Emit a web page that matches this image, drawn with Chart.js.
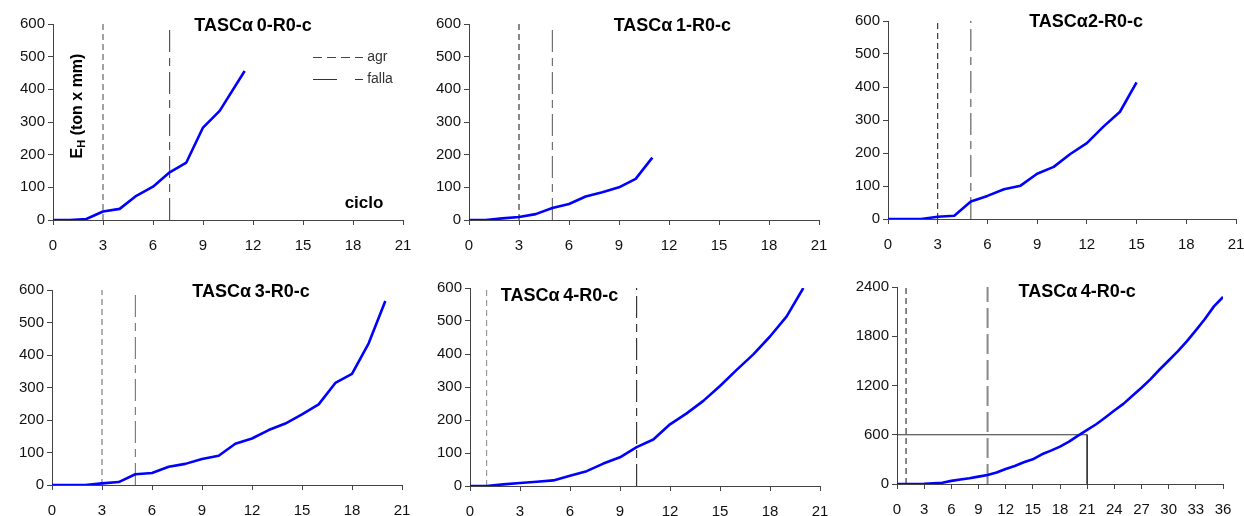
<!DOCTYPE html>
<html lang="es">
<head>
<meta charset="UTF-8" />
<title>Energía histerética por ciclo - TASC</title>
<script src="https://cdn.jsdelivr.net/npm/chart.js"></script>
<style>
  html, body { margin: 0; padding: 0; background: #fff; overflow: hidden; }
  body { width: 1244px; height: 516px; position: relative; }
  .panel { position: absolute; }
</style>
</head>
<body>
<div class="panel" id="p0"><canvas id="c0"></canvas></div>
<div class="panel" id="p1"><canvas id="c1"></canvas></div>
<div class="panel" id="p2"><canvas id="c2"></canvas></div>
<div class="panel" id="p3"><canvas id="c3"></canvas></div>
<div class="panel" id="p4"><canvas id="c4"></canvas></div>
<div class="panel" id="p5"><canvas id="c5"></canvas></div>

<script>
// ciclo -> E_H (ton x mm), one pair of arrays per specimen
const cyclesA0 = [0, 1, 2, 3, 4, 5, 6, 7, 8, 9, 10, 11.5];
const energyA0 = [0, 0, 3, 26, 34, 74, 102, 146, 176, 283, 334, 456];

const cyclesA1 = [0, 1, 2, 3, 4, 5, 6, 7, 8, 9, 10, 11];
const energyA1 = [0, 0, 5, 9, 18, 37, 49, 72, 85, 100, 126, 191];

const cyclesA2 = [0, 1, 2, 3, 4, 5, 6, 7, 8, 9, 10, 11, 12, 13, 14, 15];
const energyA2 = [0, 0, 0, 7, 10, 53, 70, 90, 101, 137, 158, 197, 230, 280, 325, 414];

const cyclesA3 = [0, 1, 2, 3, 4, 5, 6, 7, 8, 9, 10, 11, 12, 13, 14, 15, 16, 17, 18, 19, 20];
const energyA3 = [0, 0, 0, 5, 9, 33, 37, 56, 65, 80, 90, 127, 143, 169, 189, 217, 248, 314, 342, 436, 566];

const cyclesA4 = [0, 1, 2, 3, 4, 5, 6, 7, 8, 9, 10, 11, 12, 13, 14, 15, 16, 17, 18, 19, 20];
const energyA4 = [0, 0, 5, 9, 13, 17, 31, 45, 68, 87, 118, 141, 187, 220, 258, 303, 352, 399, 453, 514, 600];

const cyclesA4full = [0, 1, 2, 3, 4, 5, 6, 7, 8, 9, 10, 11, 12, 13, 14, 15, 16, 17, 18,
  19, 20, 21, 22, 23, 24, 25, 26, 27, 28, 29, 30, 31, 32, 33, 34, 35, 36];
const energyA4full = [0, 0, 0, 2, 8, 16, 38, 55, 70, 90, 110, 140, 183, 220, 264, 301, 362, 407, 456,
  517, 590, 659, 728, 810, 895, 976, 1074, 1172, 1278, 1395, 1505, 1615, 1737, 1871, 2010, 2164, 2278];

const seriesCycles = [cyclesA0, cyclesA1, cyclesA2, cyclesA3, cyclesA4, cyclesA4full];
const seriesEnergy = [energyA0, energyA1, energyA2, energyA3, energyA4, energyA4full];

// cycle of first crack (agr) and of failure (falla)
const agrCycle = [3, 3, 3, 3, 1, 1];
const fallaCycle = [7, 5, 5, 5, 10, 10];

// axes
const cycleMax = [21, 21, 21, 21, 21, 36];
const cycleStep = [3, 3, 3, 3, 3, 3];
const energyMax = [600, 600, 600, 600, 600, 2400];
const energyStep = [100, 100, 100, 100, 100, 600];

const titles = ['TASCα\u20090-R0-c', 'TASCα\u20091-R0-c', 'TASCα2-R0-c',
  'TASCα\u20093-R0-c', 'TASCα\u20094-R0-c', 'TASCα\u20094-R0-c'];

// 600 ton x mm reached at cycle 21 (last panel)
const refCycles = [0, 21, 21];
const refEnergy = [600, 600, 0];

/* layout: plot area in page pixels [left, top, right, bottom] */
const plotBoxes = [
  [53, 24, 403, 220],
  [469, 24, 819, 220],
  [888, 21, 1236, 219],
  [52, 290, 402, 485],
  [470, 288, 820, 486],
  [897, 287, 1223, 484]
];
// title centre, in axis units
const titlePos = [[12, 594], [12.2, 594], [11.95, 597], [11.94, 595], [5.37, 577], [19.9, 2343]];

const agrStyle = [
  { color: '#444', width: 1, dash: [6, 4] },
  { color: '#111', width: 1, dash: [6, 4] },
  { color: '#111', width: 1, dash: [6, 4] },
  { color: '#666', width: 1, dash: [6, 4] },
  { color: '#888', width: 1, dash: [6, 4] },
  { color: '#111', width: 1, dash: [6, 4] }
];
const fallaStyle = [
  { color: '#333', width: 1, dash: [22, 6, 8, 6] },
  { color: '#555', width: 1, dash: [22, 6, 8, 6] },
  { color: '#444', width: 1, dash: [22, 6, 8, 6] },
  { color: '#666', width: 1, dash: [22, 6, 8, 6] },
  { color: '#111', width: 1, dash: [22, 6, 8, 6] },
  { color: '#888', width: 2, dash: [20, 6] }
];

const FONT = '"Liberation Sans", Arial, sans-serif';
const Y_W = 50, X_H = 34, PAD_T = 20, PAD_R = 15;

function toPoints(xs, ys) {
  return xs.map(function (x, k) { return { x: x, y: ys[k] }; });
}

// labels of the first panel: axis title, "ciclo" and the legend
function drawFirstPanelLabels(chart) {
  const ctx = chart.ctx, xs = chart.scales.x, ys = chart.scales.y;

  // E_H (ton x mm), vertical
  ctx.save();
  ctx.translate(xs.getPixelForValue(1.5), ys.getPixelForValue(349));
  ctx.rotate(-Math.PI / 2);
  ctx.fillStyle = '#000';
  ctx.textBaseline = 'middle';
  ctx.textAlign = 'left';
  ctx.font = 'bold 16px ' + FONT;
  const wE = ctx.measureText('E').width;
  const rest = ' (ton x mm)';
  const wRest = ctx.measureText(rest).width;
  ctx.font = 'bold 11px ' + FONT;
  const wH = ctx.measureText('H').width;
  let x0 = -(wE + wH + wRest) / 2;
  ctx.font = 'bold 16px ' + FONT;
  ctx.fillText('E', x0, 0);
  ctx.font = 'bold 11px ' + FONT;
  ctx.fillText('H', x0 + wE, 4);
  ctx.font = 'bold 16px ' + FONT;
  ctx.fillText(rest, x0 + wE + wH, 0);
  ctx.restore();

  ctx.save();
  ctx.fillStyle = '#000';
  ctx.font = 'bold 17px ' + FONT;
  ctx.textAlign = 'center';
  ctx.textBaseline = 'middle';
  ctx.fillText('ciclo', xs.getPixelForValue(18.66), ys.getPixelForValue(52));

  // legend
  const legend = [
    { label: 'agr', y: 500, dash: [9, 5], color: '#444' },
    { label: 'falla', y: 431, dash: [24, 18, 8, 18], color: '#333' }
  ];
  const lx0 = xs.getPixelForValue(15.6), lx1 = xs.getPixelForValue(18.6);
  ctx.font = '14px ' + FONT;
  ctx.textAlign = 'left';
  legend.forEach(function (it) {
    const py = Math.round(ys.getPixelForValue(it.y)) + 0.5;
    ctx.strokeStyle = it.color;
    ctx.lineWidth = 1;
    ctx.setLineDash(it.dash);
    ctx.beginPath();
    ctx.moveTo(lx0, py);
    ctx.lineTo(lx1, py);
    ctx.stroke();
    ctx.setLineDash([]);
    ctx.fillStyle = '#333';
    ctx.fillText(it.label, xs.getPixelForValue(18.85), py);
  });
  ctx.restore();
}

function notesPlugin(i) {
  return {
    id: 'notes' + i,
    afterDraw: function (chart) {
      const ctx = chart.ctx, xs = chart.scales.x, ys = chart.scales.y;
      ctx.save();
      ctx.fillStyle = '#000';
      ctx.font = 'bold 18px ' + FONT;
      ctx.textAlign = 'center';
      ctx.textBaseline = 'middle';
      ctx.fillText(titles[i], xs.getPixelForValue(titlePos[i][0]), ys.getPixelForValue(titlePos[i][1]));
      ctx.restore();
      if (i === 0) drawFirstPanelLabels(chart);
    }
  };
}

// plain numbers, no thousands separator
function plainTick(value) {
  return String(value);
}

function makePanel(i) {
  const box = plotBoxes[i];
  const div = document.getElementById('p' + i);
  div.style.left = (box[0] - Y_W) + 'px';
  div.style.top = (box[1] - PAD_T) + 'px';
  div.style.width = (box[2] - box[0] + Y_W + PAD_R) + 'px';
  div.style.height = (box[3] - box[1] + PAD_T + X_H) + 'px';

  const datasets = [
    {
      label: 'E_H',
      data: toPoints(seriesCycles[i], seriesEnergy[i]),
      borderColor: '#0000ff',
      borderWidth: 2.6,
      pointRadius: 0,
      tension: 0,
      fill: false,
      borderJoinStyle: 'round'
    },
    {
      label: 'agr',
      data: toPoints([agrCycle[i], agrCycle[i]], [0, energyMax[i]]),
      borderColor: agrStyle[i].color,
      borderWidth: agrStyle[i].width,
      borderDash: agrStyle[i].dash,
      pointRadius: 0,
      fill: false
    },
    {
      label: 'falla',
      data: toPoints([fallaCycle[i], fallaCycle[i]], [0, energyMax[i]]),
      borderColor: fallaStyle[i].color,
      borderWidth: fallaStyle[i].width,
      borderDash: fallaStyle[i].dash,
      pointRadius: 0,
      fill: false
    }
  ];
  if (i === 5) {
    datasets.push({
      label: 'ref',
      data: toPoints(refCycles, refEnergy),
      borderColor: '#333',
      borderWidth: 1,
      pointRadius: 0,
      tension: 0,
      fill: false
    });
  }

  return new Chart(document.getElementById('c' + i), {
    type: 'line',
    data: { datasets: datasets },
    plugins: [notesPlugin(i)],
    options: {
      responsive: true,
      maintainAspectRatio: false,
      animation: false,
      events: [],
      layout: { padding: { top: PAD_T, right: PAD_R, left: 0, bottom: 0 } },
      plugins: {
        legend: { display: false },
        tooltip: { enabled: false },
        title: { display: false }
      },
      scales: {
        x: {
          type: 'linear',
          min: 0,
          max: cycleMax[i],
          // fixed size, end labels may spill into the padding
          afterFit: function (s) { s.height = X_H; s.paddingLeft = 0; s.paddingRight = 0; },
          border: { display: true, color: '#444', width: 1 },
          grid: { drawOnChartArea: false, drawTicks: true, tickLength: 5, color: '#444' },
          ticks: {
            stepSize: cycleStep[i],
            padding: 12,
            maxRotation: 0,
            color: '#111',
            font: { family: FONT, size: 15 },
            callback: plainTick
          }
        },
        y: {
          type: 'linear',
          min: 0,
          max: energyMax[i],
          afterFit: function (s) { s.width = Y_W; s.paddingTop = 0; s.paddingBottom = 0; },
          border: { display: true, color: '#444', width: 1 },
          grid: { drawOnChartArea: false, drawTicks: true, tickLength: 5, color: '#444' },
          ticks: {
            stepSize: energyStep[i],
            padding: 3,
            color: '#111',
            font: { family: FONT, size: 15 },
            callback: plainTick
          }
        }
      }
    }
  });
}

for (let i = 0; i < 6; i++) {
  makePanel(i);
}
</script>
</body>
</html>
